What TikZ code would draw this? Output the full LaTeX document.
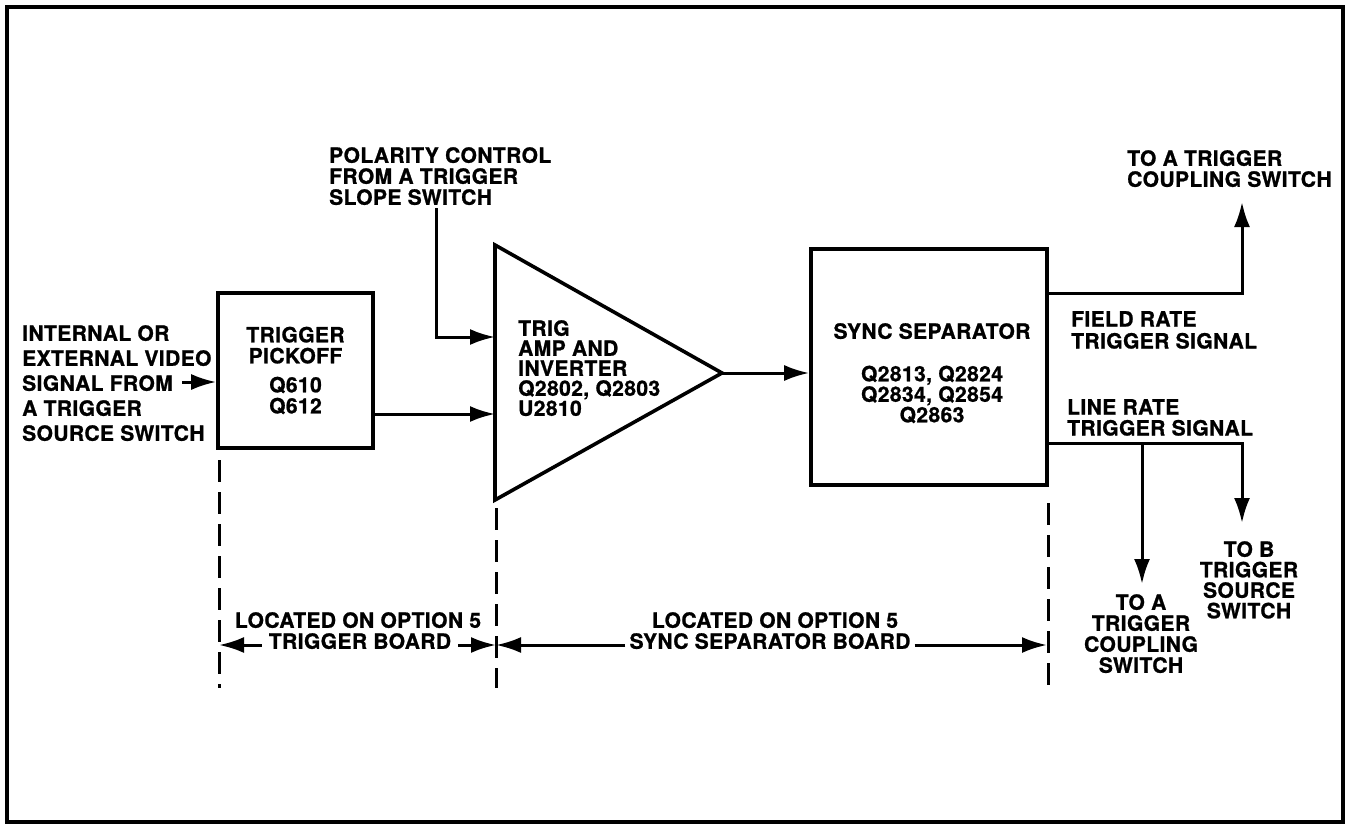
\documentclass[tikz,border=0pt]{standalone}
\usepackage{fontspec}
\setmainfont{TeX Gyre Heros}[LetterSpace=2,BoldFeatures={FakeBold=1}]
\usetikzlibrary{arrows.meta}
\begin{document}
\begin{tikzpicture}[x=1pt,y=-1pt,
    blk/.style={draw,line width=3.6pt},
    wire/.style={line width=3pt},
    arr/.style={wire,-{Latex[length=25pt,width=16pt]}},
    bound/.style={line width=3pt,dash pattern=on 22pt off 10pt},
    lbl/.style={inner sep=0pt,font=\fontsize{21}{#1}\selectfont\bfseries},
    lbl/.default=21]
    \useasboundingbox (0,0) rectangle (1349,825);
    \draw[line width=3.5pt] (7,7) rectangle (1343,822);
    % blocks
    \node[blk,lbl,minimum width=155,minimum height=155,align=center] (pick) at (295.5,370.5)
      {TRIGGER\\PICKOFF\\[8pt]Q610\\Q612};
    \draw[blk] (495,245) -- (722,373) -- (495,500) -- cycle;
    \coordinate (apex) at (722,373);
    \node[lbl=20,anchor=north west,align=left] (ampTxt) at (518,320)
      {TRIG\\AMP AND\\INVERTER\\Q2802, Q2803\\U2810};
    \node[blk,minimum width=236,minimum height=236] (sync) at (929,367) {};
    \node[lbl=20.5,anchor=north,align=center] (syncTxt) at (932,323)
      {SYNC SEPARATOR\\[22pt]Q2813, Q2824\\Q2834, Q2854\\Q2863};
    % labels
    \node[lbl=25,anchor=north west,align=left] (vidTxt) at (22,325)
      {INTERNAL OR\\EXTERNAL VIDEO\\SIGNAL FROM\\A TRIGGER\\SOURCE SWITCH};
    \node[lbl,anchor=north west,align=left] (polTxt) at (329,147)
      {POLARITY CONTROL\\FROM A TRIGGER\\SLOPE SWITCH};
    \node[lbl,anchor=north west,align=left] (cplTxt) at (1127,150)
      {TO A TRIGGER\\COUPLING SWITCH};
    \node[lbl=22,anchor=north west,align=left] (fieldTxt) at (1071,311)
      {FIELD RATE\\TRIGGER SIGNAL};
    \node[lbl,anchor=north west,align=left] (lineTxt) at (1067,399)
      {LINE RATE\\TRIGGER SIGNAL};
    \node[lbl=20.5,anchor=north,align=center] (srcBTxt) at (1249,541)
      {TO B\\TRIGGER\\SOURCE\\SWITCH};
    \node[lbl,anchor=north,align=center] (cplATxt) at (1141,594)
      {TO A\\TRIGGER\\COUPLING\\SWITCH};
    % connectors
    \coordinate (vin) at (182,382);
    \coordinate (polTop) at (436,208);
    \coordinate (ampA) at (495,337);
    \coordinate (ampB) at (495,414);
    \draw[arr] (vin) -- (vin -| pick.west);
    \draw[arr] (polTop) |- (ampA);
    \draw[arr] (ampB -| pick.east) -- (ampB);
    \draw[arr] (apex) -- (apex -| sync.west);
    \coordinate (fieldOut) at (1047,293);
    \coordinate (fieldEnd) at (1242,202);
    \coordinate (lineOut) at (1047,443);
    \coordinate (lineTap) at (1142,443);
    \coordinate (toB) at (1242,523);
    \coordinate (toA) at (1142,584);
    \draw[arr] (fieldOut) -| (fieldEnd);
    \draw[arr] (lineOut) -| (toB);
    \draw[arr] (lineTap) -- (toA);
    % board limits
    \draw[bound] (219,460) -- (219,688);
    \draw[bound] (496,508) -- (496,688);
    \draw[bound] (1048,503) -- (1048,686);
    \coordinate (dA) at (219,645);
    \coordinate (dB) at (496,645);
    \coordinate (dC) at (1047,645);
    \node[lbl,anchor=north] (locA) at (358,612) {LOCATED ON OPTION 5};
    \node[lbl,anchor=north,inner xsep=7pt] (brdA) at (360,633) {TRIGGER BOARD};
    \node[lbl,anchor=north] (locB) at (775,612) {LOCATED ON OPTION 5};
    \node[lbl,anchor=north,inner xsep=4pt] (brdB) at (770,633) {SYNC SEPARATOR BOARD};
    \draw[arr] (brdA.west |- dA) -- (dA);
    \draw[arr] (brdA.east |- dB) -- (dB);
    \draw[arr] (brdB.west |- dB) -- (dB);
    \draw[arr] (brdB.east |- dC) -- (dC);
  \end{tikzpicture}
\end{document}
